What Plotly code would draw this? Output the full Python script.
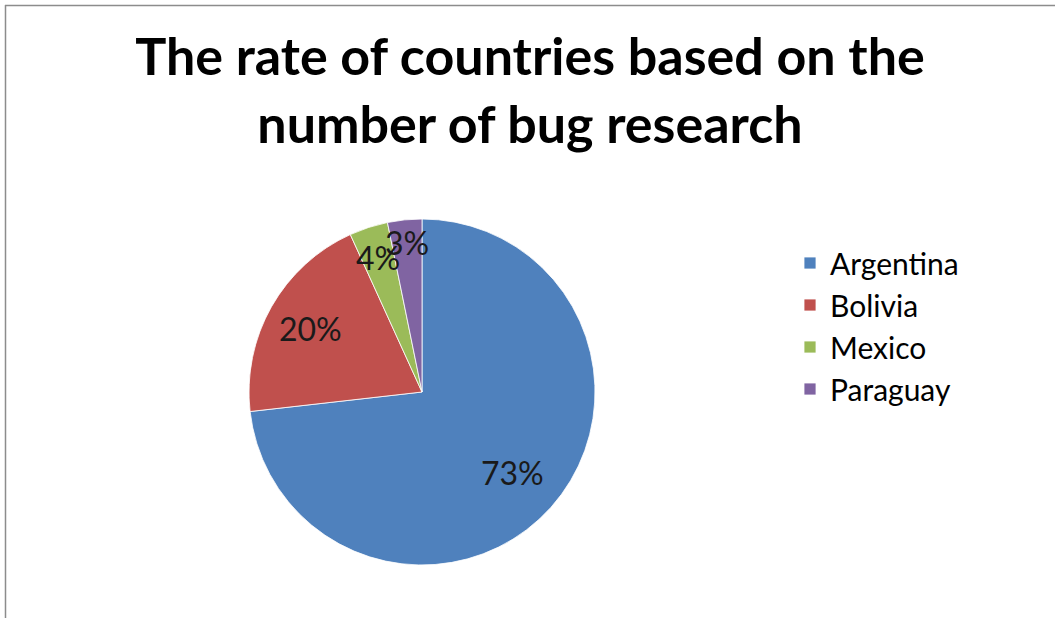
import math
import plotly.graph_objects as go

# ---- data ----
countries = ["Argentina", "Bolivia", "Mexico", "Paraguay"]
shares = [73.2, 20.0, 3.6, 3.2]
colors = ["#4F81BD", "#C0504D", "#9BBB59", "#8064A2"]
title_lines = ["The rate of countries based on the", "number of bug research"]

# ---- layout constants (pixels) ----
W, H = 1055, 618
CX, CY, R = 422, 392, 173          # pie centre / radius in pixels (from top-left)
label_radius = [0.70, 0.74, 0.82, 0.87]  # label distance as fraction of radius
FONT = "Lato"

fig = go.Figure()
fig.add_trace(go.Pie(
    labels=countries,
    values=shares,
    sort=False,
    direction="clockwise",
    rotation=0,
    marker=dict(colors=colors, line=dict(color="white", width=0.8)),
    textinfo="none",
    hoverinfo="label+percent",
    domain=dict(x=[(CX - R) / W, (CX + R) / W],
                y=[(H - CY - R) / H, (H - CY + R) / H]),
))

# percentage labels placed along each slice bisector
total = sum(shares)
cum = 0.0
for v, rf in zip(shares, label_radius):
    mid = (cum + v / 2) / total * 2 * math.pi
    cum += v
    px = CX + rf * R * math.sin(mid)
    py = CY - rf * R * math.cos(mid)
    fig.add_annotation(
        x=px / W, y=1 - py / H, xref="paper", yref="paper",
        text=f"{round(v / total * 100)}%", showarrow=False,
        font=dict(family=FONT, size=32, color="#1a1a1a"),
        xanchor="center", yanchor="middle",
    )

# chart frame (top and left edges visible)
fig.add_shape(type="line", xref="paper", yref="paper",
              x0=5 / W, x1=1, y0=1 - 5.5 / H, y1=1 - 5.5 / H,
              line=dict(color="#8c8c8c", width=1.5))
fig.add_shape(type="line", xref="paper", yref="paper",
              x0=5.5 / W, x1=5.5 / W, y0=0, y1=1 - 5 / H,
              line=dict(color="#8c8c8c", width=1.5))

fig.update_layout(
    width=W, height=H,
    margin=dict(l=0, r=0, t=0, b=0),
    paper_bgcolor="white",
    plot_bgcolor="white",
    title=dict(
        text="<br>".join(title_lines),
        x=530 / W, xanchor="center",
        y=1 - 75 / H, yanchor="top",
        font=dict(family=FONT, size=52, color="black", weight="bold"),
    ),
    legend=dict(
        x=790 / W, xanchor="left",
        y=1 - 237 / H, yanchor="top",
        font=dict(family=FONT, size=30, color="black"),
        tracegroupgap=0,
        itemwidth=30,
        bgcolor="rgba(0,0,0,0)",
    ),
    showlegend=True,
)

fig.write_html("out.html", config={"displayModeBar": False},
               post_script="document.body.style.margin='0';")
